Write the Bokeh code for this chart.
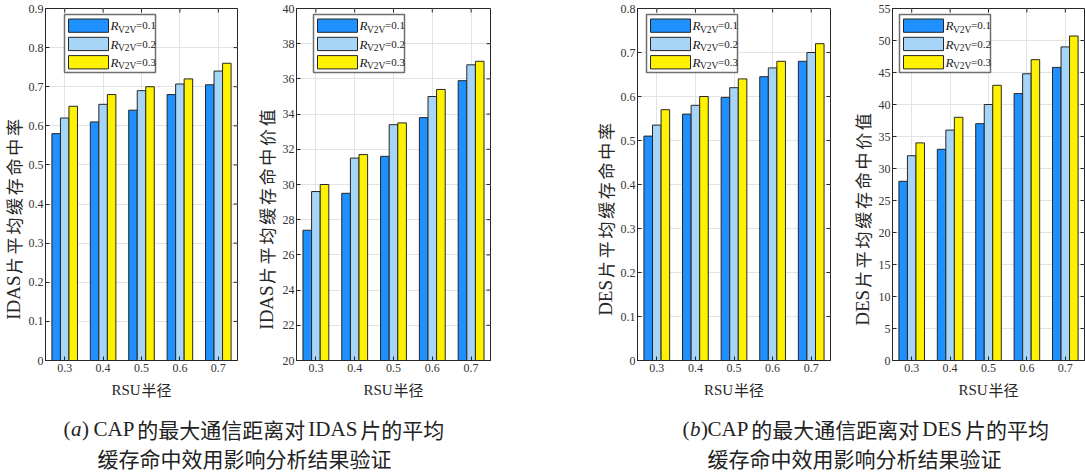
from math import pi
from bokeh.plotting import figure
from bokeh.layouts import row, column
from bokeh.models import Range1d, FixedTicker
from bokeh.embed import file_html
from bokeh.resources import INLINE
from bokeh.core.properties import value

# ---------------- data ----------------
categories = ["0.3", "0.4", "0.5", "0.6", "0.7"]          # RSU radius
series_names = ["0.1", "0.2", "0.3"]                       # R_V2V

idas_rate_01 = [0.58, 0.61, 0.64, 0.68, 0.705]
idas_rate_02 = [0.62, 0.655, 0.69, 0.707, 0.74]
idas_rate_03 = [0.65, 0.68, 0.70, 0.72, 0.76]

idas_value_01 = [27.4, 29.5, 31.6, 33.8, 35.9]
idas_value_02 = [29.6, 31.5, 33.4, 35.0, 36.8]
idas_value_03 = [30.0, 31.7, 33.5, 35.4, 37.0]

des_rate_01 = [0.51, 0.56, 0.598, 0.645, 0.68]
des_rate_02 = [0.535, 0.58, 0.62, 0.665, 0.70]
des_rate_03 = [0.57, 0.60, 0.64, 0.68, 0.72]

des_value_01 = [28, 33, 37, 41.7, 45.8]
des_value_02 = [32, 36, 40, 44.8, 49]
des_value_03 = [34, 38, 43, 47, 50.7]

yticks_rate9 = [0, 0.1, 0.2, 0.3, 0.4, 0.5, 0.6, 0.7, 0.8, 0.9]
yticks_idas_value = [20, 22, 24, 26, 28, 30, 32, 34, 36, 38, 40]
yticks_rate8 = [0, 0.1, 0.2, 0.3, 0.4, 0.5, 0.6, 0.7, 0.8]
yticks_des_value = [0, 5, 10, 15, 20, 25, 30, 35, 40, 45, 50, 55]

# axis labels: (latin part, chinese part)
ylabels = [("IDAS", "片平均缓存命中率"), ("IDAS", "片平均缓存命中价值"),
           ("DES", "片平均缓存命中率"), ("DES", "片平均缓存命中价值")]
xlabel = ("RSU", "半径")
caption_a = [["CAP", "的最大通信距离对", "IDAS", "片的平均"], ["缓存命中效用影响分析结果验证"]]
caption_b = [["CAP", "的最大通信距离对", "DES", "片的平均"], ["缓存命中效用影响分析结果验证"]]

# ---------------- style ----------------
COLORS = ["#1E90FF", "#A6D5F7", "#FFF200"]
EDGE = "#262626"
TXT = "#262626"
SERIF = "Liberation Serif"
CJK = "Noto Sans CJK SC"
FH = 352
TOP = 8
PH = 375          # height of the chart row
BAR_W = 0.222
EM = {"C": .667, "A": .722, "P": .556, "I": .333, "D": .722, "S": .556,
      "E": .611, "R": .667, "U": .722}


def latin_w(s, size):
    return sum(EM.get(ch, 0.6) for ch in s) * size


def fmt(v):
    return "%g" % v


def blank_fig(w, h, flip=False):
    f = figure(width=w, height=h, x_range=Range1d(0, w),
               y_range=Range1d(h, 0) if flip else Range1d(0, h),
               output_backend="svg", toolbar_location=None, tools="", min_border=0)
    f.axis.visible = False
    f.grid.visible = False
    f.outline_line_color = None
    return f


def ylabel_fig(w, xc, label):
    f = blank_fig(w, PH)
    fs, cfs, pitch, gap = 19, 17, 21, 3
    lat, cjk = label
    wl = latin_w(lat, fs)
    total = wl + gap + pitch * len(cjk)
    cy = 224                       # screen y of label centre
    bottom = cy + total / 2        # screen y where the text starts
    f.text(x=[xc], y=[PH - bottom], text=[lat], angle=pi / 2, text_font=value(SERIF),
           text_font_size="%dpx" % fs, text_color=TXT, text_align="left", text_baseline="middle")
    ys = [PH - (bottom - wl - gap - pitch * (k + 0.5)) for k in range(len(cjk))]
    f.text(x=[xc] * len(cjk), y=ys, text=list(cjk), angle=pi / 2, text_font=value(CJK),
           text_font_size="%dpx" % cfs, text_color=TXT, text_align="center",
           text_baseline="middle")
    return f


def make_panel(series, yticks, left, frame_w, right, legend_dx):
    y0, y1 = yticks[0], yticks[-1]
    p = figure(frame_width=frame_w, frame_height=FH,
               min_border_left=left, min_border_right=right,
               min_border_top=TOP, min_border_bottom=PH - FH - TOP,
               x_range=Range1d(0.5, 5.5), y_range=Range1d(y0, y1),
               output_backend="svg", toolbar_location=None, tools="")
    p.outline_line_color = EDGE
    p.background_fill_color = "white"
    p.border_fill_color = "white"

    def fx(px):
        return 0.5 + px / frame_w * 5.0

    def fy(py):
        return y1 - py / FH * (y1 - y0)

    xt = list(range(1, len(categories) + 1))
    p.xaxis.ticker = FixedTicker(ticks=xt)
    p.xaxis.major_label_overrides = {i + 1: c for i, c in enumerate(categories)}
    p.yaxis.ticker = FixedTicker(ticks=yticks)
    p.yaxis.major_label_overrides = {t: fmt(t) for t in yticks}
    for ax in (p.xaxis[0], p.yaxis[0]):
        ax.major_tick_in = 4
        ax.major_tick_out = 0
        ax.minor_tick_line_color = None
        ax.axis_line_color = EDGE
        ax.major_tick_line_color = EDGE
        ax.major_label_text_font = SERIF
        ax.major_label_text_font_size = "12px"
        ax.major_label_text_color = "#333333"
    p.xaxis.major_label_standoff = 3
    p.yaxis.major_label_standoff = 2

    # inward ticks on the right and top edges (box on)
    p.segment(x0=[fx(frame_w - 4)] * len(yticks), x1=[fx(frame_w)] * len(yticks),
              y0=yticks, y1=yticks, line_color=EDGE, line_width=1)
    p.segment(x0=xt, x1=xt, y0=[fy(0)] * len(xt), y1=[fy(4)] * len(xt),
              line_color=EDGE, line_width=1)

    p.xgrid.ticker = FixedTicker(ticks=xt)
    p.ygrid.ticker = FixedTicker(ticks=yticks)
    p.xgrid.grid_line_color = "#e3e3e3"
    p.ygrid.grid_line_color = "#e3e3e3"

    for i, vals in enumerate(series):
        xs = [k + 1 + (i - 1) * BAR_W for k in range(len(vals))]
        p.vbar(x=xs, top=vals, bottom=y0, width=BAR_W,
               fill_color=COLORS[i], line_color=EDGE, line_width=1)

    # legend
    bx0, by0, bw, bh = legend_dx, 6, 91, 58
    p.quad(left=[fx(bx0)], right=[fx(bx0 + bw)], top=[fy(by0)], bottom=[fy(by0 + bh)],
           fill_color="white", line_color="#6e6e6e", line_width=1.5)
    for r in range(3):
        ty = by0 + 4.5 + r * 18.3
        p.quad(left=[fx(bx0 + 4)], right=[fx(bx0 + 44)], top=[fy(ty)], bottom=[fy(ty + 13.3)],
               fill_color=COLORS[r], line_color=EDGE, line_width=1)
        cy = fy(ty + 6.7)
        tx = fx(bx0 + 46)
        p.text(x=[tx], y=[cy], text=["R"], text_font=value(SERIF),
               text_font_style="italic", text_font_size="13px", text_color="#1a1a1a",
               text_baseline="middle", text_align="left")
        p.text(x=[tx], y=[cy], text=["V2V"], x_offset=7.5, y_offset=4,
               text_font=value(SERIF), text_font_size="9.5px", text_color="#1a1a1a",
               text_baseline="middle", text_align="left")
        p.text(x=[tx], y=[cy], text=["=" + series_names[r]], x_offset=25.5, y_offset=-0.5,
               text_font=value(SERIF), text_font_size="11px", text_color="#1a1a1a",
               text_baseline="middle", text_align="left")
    return p


# widths: 25+228 | 25+314 | 25+232 | 25+211  = 1085
y1f = ylabel_fig(25, 12.5, ylabels[0])
p1 = make_panel([idas_rate_01, idas_rate_02, idas_rate_03], yticks_rate9, 20, 192, 16, 19)
y2f = ylabel_fig(25, 12.5, ylabels[1])
p2 = make_panel([idas_value_01, idas_value_02, idas_value_03], yticks_idas_value, 18, 194, 102, 17)
y3f = ylabel_fig(25, 12.5, ylabels[2])
p3 = make_panel([des_rate_01, des_rate_02, des_rate_03], yticks_rate8, 20, 193, 19, 9)
y4f = ylabel_fig(25, 12.5, ylabels[3])
p4 = make_panel([des_value_01, des_value_02, des_value_03], yticks_des_value, 18, 192, 1, 7)

# bottom strip: x-axis labels and captions (y measured downward from the strip top)
CAPH = 475 - PH
cap = blank_fig(1085, CAPH, flip=True)

XF = 15
frame_centres = [141, 393, 733.5, 988]
wl = latin_w(xlabel[0], XF)
tot = wl + 1 + XF * len(xlabel[1])
starts = [c - tot / 2 for c in frame_centres]
cap.text(x=starts, y=[14] * 4, text=[xlabel[0]] * 4, text_font=value(SERIF),
         text_font_size="%dpx" % XF, text_color=TXT, text_baseline="middle", text_align="left")
cap.text(x=[s + wl + 1 for s in starts], y=[14] * 4, text=[xlabel[1]] * 4, text_font=value(CJK),
         text_font_size="%dpx" % XF, text_color=TXT, text_baseline="middle", text_align="left")

CF = 21
CAPC = "#222222"
L1, L2 = 53, 82


def ctext(x, y, s, font, style="normal"):
    cap.text(x=[x], y=[y], text=[s], text_font=value(font), text_font_style=style,
             text_font_size="%dpx" % CF, text_color=CAPC, text_baseline="middle",
             text_align="left")


for (x0, letter, x_text, x_line2, lines) in [(63, "a", 93, 97, caption_a),
                                               (682, "b", 707, 707, caption_b)]:
    ctext(x0, L1, "(", SERIF)
    ctext(x0 + 7.5, L1, letter, SERIF, "italic")
    ctext(x0 + 18.5, L1, ")", SERIF)
    x = x_text
    for j, seg in enumerate(lines[0]):
        if j % 2 == 0:
            ctext(x, L1, seg, SERIF)
            x += latin_w(seg, CF) + 3
        else:
            ctext(x, L1, seg, CJK)
            x += CF * len(seg) + 3
    ctext(x_line2, L2, lines[1][0], CJK)

layout = column(row(y1f, p1, y2f, p2, y3f, p3, y4f, p4), cap)
open("out.html", "w").write(file_html(layout, INLINE))
